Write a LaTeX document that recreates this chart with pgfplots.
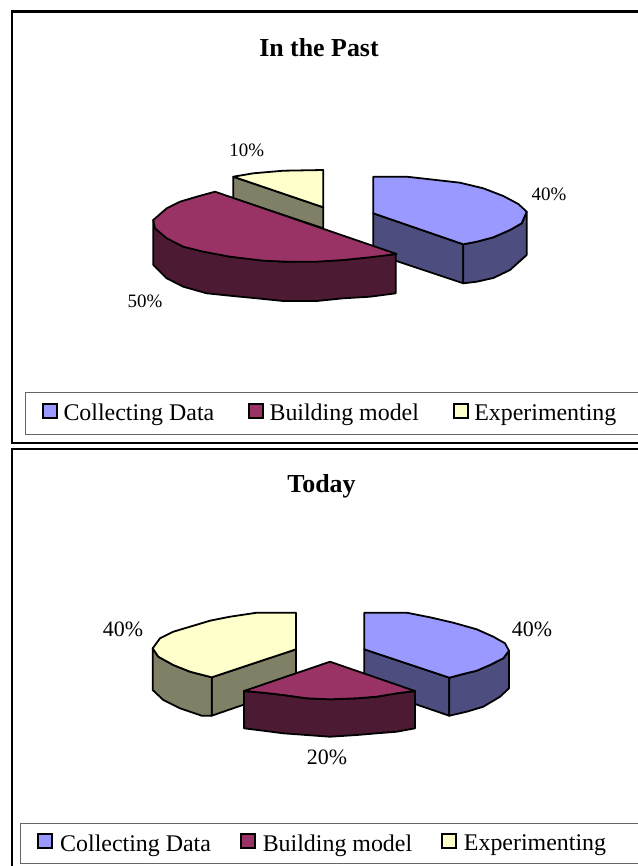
\documentclass[border=0pt]{standalone}
\usepackage{pgfplots}
\pgfplotsset{compat=1.18}
\usepackage{fontspec}
\setmainfont{Liberation Serif}

\definecolor{bluetop}{HTML}{9999FF}
\definecolor{blueside}{HTML}{4D4D80}
\definecolor{maroontop}{HTML}{993366}
\definecolor{maroonside}{HTML}{4D1A33}
\definecolor{yellowtop}{HTML}{FFFFCC}
\definecolor{yellowside}{HTML}{808066}

\tikzset{
  wall/.style={draw=black, line width=1.8bp, line join=round},
  lab/.style={font=\fontsize{#1}{24}\selectfont},
}
% every axis uses picture pixels as its units, so values are read straight off the reference
\pgfplotsset{
  swatch/.style={legend image code/.code={
    \draw[black, line width=1.8bp, fill=#1] (0bp,-4.5bp) rectangle ++(14bp,14bp);}},
  piepanel/.style={
    x=1bp, y=1bp, y dir=reverse,
    xtick=\empty, ytick=\empty,
    axis line style={line width=2.6bp},
    clip=false,
    title style={font=\fontsize{26}{28}\selectfont\bfseries},
    legend columns=3,
    legend cell align=left,
    legend style={draw=black!60, line width=0.9bp,
      font=\fontsize{24}{26}\selectfont},
  },
}

\begin{document}
\begin{tikzpicture}
\useasboundingbox (0,0) rectangle (638bp,-866bp);

\begin{axis}[piepanel, at={(12bp,-11.5bp)}, anchor=north west,
  xmin=12, xmax=660, ymin=11.5, ymax=443,
  title={In the Past}, title style={at={(axis cs:319,54)}, anchor=center},
  legend style={at={(axis cs:25.3,391.7)}, anchor=north west,
    inner xsep=16.5bp, inner ysep=10bp,
    /tikz/every odd column/.append style={column sep=3.5bp},
    /tikz/every even column/.append style={column sep=32bp}}]
\addlegendimage{swatch=bluetop}
\addlegendentry{Collecting Data}
\addlegendimage{swatch=maroontop}
\addlegendentry{Building model}
\addlegendimage{swatch=yellowtop}
\addlegendentry{Experimenting\hspace*{30bp}}
% blue slice
\addplot[wall, fill=blueside, forget plot] coordinates {(373.3,213.3) (463.3,244.3) (463.3,283.3) (373.3,253.3)} -- cycle;
\addplot[wall, fill=blueside, forget plot] coordinates {(463.3,244.3) (476.7,241.7) (493.3,237.3) (510,230) (521.7,223.3) (526.7,211.7) (526.7,255) (510,270) (493.3,278) (476.7,281.7) (463.3,283.3)} -- cycle;
\addplot[wall, fill=bluetop, forget plot] coordinates {(373.3,176.7) (406.7,176.7) (430,179.3) (460,182.7) (483.3,188.3) (503.3,196) (518.3,204) (526.7,211.7) (521.7,223.3) (510,230) (493.3,237.3) (476.7,241.7) (463.3,244.3) (373.3,213.3)} -- cycle;
% yellow slice
\addplot[wall, fill=yellowside, forget plot] coordinates {(233.3,176.7) (323.3,207.3) (323.3,228.3) (233.3,198.3)} -- cycle;
\addplot[wall, fill=yellowtop, forget plot] coordinates {(233.3,176.7) (253.3,173.3) (283.3,170.7) (323.3,170) (323.3,207.3)} -- cycle;
% maroon slice
\addplot[wall, fill=maroonside, forget plot] coordinates {(153.3,220) (153.3,265) (166.7,278.3) (183.3,286.7) (206.7,293.3) (230,295.7) (256.7,298.3) (283.3,301) (316.7,301) (343.3,298.3) (370,296.7) (395.7,293.3) (395.7,254) (343.3,260) (283.3,261.7) (230,256.7) (183.3,246.7)} -- cycle;
\addplot[wall, fill=maroontop, forget plot] coordinates {(215,191.7) (196.7,196.7) (180,201.7) (166.7,208.3) (153.3,220) (155,228.3) (166.7,238.3) (183.3,246.7) (203.3,251.7) (230,256.7) (263.3,260.7) (286.7,261.7) (316.7,261.7) (343.3,260) (370,257.3) (396.7,254)} -- cycle;
\node[lab=19] at (axis cs:246.7,150.5) {10\%};
\node[lab=19] at (axis cs:549,194) {40\%};
\node[lab=19] at (axis cs:145,301) {50\%};
\end{axis}

\begin{axis}[piepanel, at={(12bp,-449bp)}, anchor=north west,
  xmin=12, xmax=660, ymin=449, ymax=880,
  title={Today}, title style={at={(axis cs:321.5,492)}, anchor=center},
  legend style={at={(axis cs:20,822.7)}, anchor=north west,
    inner xsep=17bp, inner ysep=9.3bp,
    /tikz/every odd column/.append style={column sep=5bp},
    /tikz/every even column/.append style={column sep=27bp}}]
\addlegendimage{swatch=bluetop}
\addlegendentry{Collecting Data}
\addlegendimage{swatch=maroontop}
\addlegendentry{Building model}
\addlegendimage{swatch=yellowtop}
\addlegendentry{Experimenting\hspace*{40bp}}
% blue slice
\addplot[wall, fill=blueside, forget plot] coordinates {(364.3,649.3) (449.3,677.7) (449.3,715.7) (364.3,686.7)} -- cycle;
\addplot[wall, fill=blueside, forget plot] coordinates {(449.3,677.7) (463.3,674) (476.7,670.7) (490,665) (503.3,658.3) (509,650.7) (509,688.3) (500,696.7) (483.3,706.7) (466.7,711.7) (449.3,715.7)} -- cycle;
\addplot[wall, fill=bluetop, forget plot] coordinates {(364.3,612.7) (406.7,612.7) (430,617.3) (453.3,622.7) (476.7,629.3) (493.3,636.7) (505,643.3) (509,650.7) (503.3,658.3) (490,665) (476.7,670.7) (463.3,674) (449.3,677.7) (364.3,649.3)} -- cycle;
% yellow slice
\addplot[wall, fill=yellowside, forget plot] coordinates {(211.7,677.3) (296,649.3) (296,686.7) (211.7,715.7)} -- cycle;
\addplot[wall, fill=yellowside, forget plot] coordinates {(152.7,648.3) (152.7,690) (163.3,700) (180,708.3) (201.7,715.7) (211.7,715.7) (211.7,677.3) (190,671.7) (173.3,665) (158.3,656.7)} -- cycle;
\addplot[wall, fill=yellowtop, forget plot] coordinates {(296,612.7) (256.7,612.7) (230,616.7) (210,620.7) (190,626.7) (173.3,631.7) (160,638.3) (152.7,648.3) (158.3,656.7) (173.3,665) (190,671.7) (211.7,677.3) (296,649.3)} -- cycle;
% maroon slice
\addplot[wall, fill=maroonside, forget plot] coordinates {(244,691) (244,728.3) (263.3,730.7) (283.3,733.3) (306.7,735) (330,736.7) (356.7,735) (376.7,733.3) (396.7,731.7) (415,728.3) (415,691) (396.7,693.3) (376.7,696.7) (356.7,698.3) (330,699.3) (306.7,698.3) (283.3,695) (263.3,692.7)} -- cycle;
\addplot[wall, fill=maroontop, forget plot] coordinates {(330,661.7) (415,691) (396.7,693.3) (376.7,696.7) (356.7,698.3) (330,699.3) (306.7,698.3) (283.3,695) (263.3,692.7) (244,691)} -- cycle;
\node[lab=22] at (axis cs:123,629.5) {40\%};
\node[lab=22] at (axis cs:532,629.5) {40\%};
\node[lab=22] at (axis cs:327,757.7) {20\%};
\end{axis}
\end{tikzpicture}
\end{document}
